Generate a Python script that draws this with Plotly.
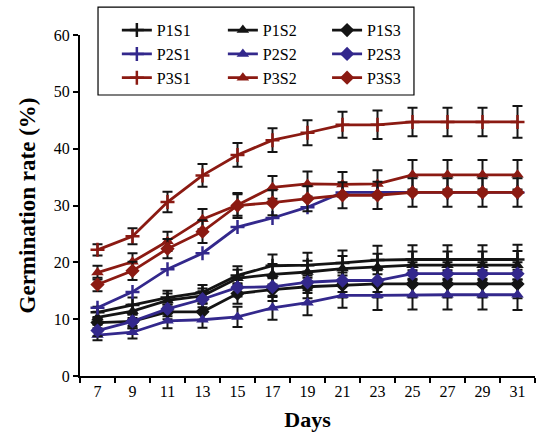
import plotly.graph_objects as go

days = ["7", "9", "11", "13", "15", "17", "19", "21", "23", "25", "27", "29", "31"]
y_ticks = [0, 10, 20, 30, 40, 50, 60]

P1S1 = [11.2, 12.5, 13.8, 14.7, 17.7, 19.4, 19.5, 19.9, 20.4, 20.5, 20.5, 20.5, 20.5]
P1S2 = [10.3, 11.4, 13.3, 14.1, 17.2, 17.9, 18.3, 18.9, 19.2, 19.5, 19.5, 19.5, 19.5]
P1S3 = [9.4, 9.6, 11.3, 11.3, 14.5, 15.2, 15.7, 16.0, 16.2, 16.2, 16.2, 16.2, 16.2]
P2S1 = [12.0, 14.8, 18.8, 21.6, 26.2, 27.8, 29.7, 32.3, 32.3, 32.3, 32.3, 32.3, 32.3]
P2S2 = [7.2, 7.7, 9.7, 9.9, 10.4, 12.0, 12.9, 14.2, 14.2, 14.3, 14.3, 14.3, 14.3]
P2S3 = [8.0, 9.6, 11.8, 13.5, 15.6, 15.7, 16.5, 16.8, 16.8, 18.0, 18.0, 18.0, 18.0]
P3S1 = [22.2, 24.6, 30.6, 35.3, 38.9, 41.5, 42.8, 44.2, 44.2, 44.7, 44.7, 44.7, 44.7]
P3S2 = [18.2, 20.1, 23.7, 27.6, 30.1, 33.2, 33.8, 33.7, 33.8, 35.4, 35.4, 35.4, 35.4]
P3S3 = [16.1, 18.5, 22.4, 25.4, 30.0, 30.5, 31.2, 31.8, 31.8, 32.3, 32.3, 32.3, 32.3]

P1S1_err = [1.0, 1.3, 1.2, 1.3, 1.6, 2.0, 2.2, 2.2, 2.5, 2.5, 2.5, 2.5, 2.6]
P1S2_err = [1.0, 1.2, 1.2, 1.3, 1.5, 1.8, 2.0, 2.2, 2.3, 2.4, 2.4, 2.4, 2.5]
P1S3_err = [1.0, 1.2, 1.3, 1.4, 1.8, 2.0, 2.0, 2.2, 2.4, 2.4, 2.4, 2.4, 2.5]
P2S2_err = [0.9, 1.1, 1.3, 1.4, 1.8, 2.1, 2.2, 2.2, 2.6, 2.6, 2.6, 2.6, 2.7]
P2S3_err = [1.0, 1.2, 1.3, 1.4, 1.6, 1.8, 1.9, 2.0, 2.0, 2.0, 2.0, 2.0, 2.0]
P3S1_err = [1.0, 1.4, 1.8, 2.0, 2.1, 2.1, 2.2, 2.3, 2.5, 2.5, 2.5, 2.5, 2.8]
P3S2_err = [1.2, 1.5, 1.7, 1.8, 1.9, 2.0, 2.2, 2.2, 2.4, 2.6, 2.6, 2.6, 2.6]
P3S3_err = [1.2, 1.6, 1.7, 2.0, 2.2, 2.2, 2.2, 2.3, 2.4, 2.5, 2.5, 2.5, 2.5]

BLACK = "#141414"
BLUE = "#33288C"
RED = "#8B1A12"
FONT = "Liberation Serif"

series = [
    ("P1S1", P1S1, P1S1_err, BLACK, "cross-thin", "legend"),
    ("P1S2", P1S2, P1S2_err, BLACK, "triangle-up", "legend2"),
    ("P1S3", P1S3, P1S3_err, BLACK, "diamond", "legend3"),
    ("P2S1", P2S1, None, BLUE, "cross-thin", "legend"),
    ("P2S2", P2S2, P2S2_err, BLUE, "triangle-up", "legend2"),
    ("P2S3", P2S3, P2S3_err, BLUE, "diamond", "legend3"),
    ("P3S1", P3S1, P3S1_err, RED, "cross-thin", "legend"),
    ("P3S2", P3S2, P3S2_err, RED, "triangle-up", "legend2"),
    ("P3S3", P3S3, P3S3_err, RED, "diamond", "legend3"),
]

fig = go.Figure()
for name, vals, err, color, sym, leg in series:
    if sym == "cross-thin":
        marker = dict(symbol=sym, size=10, color=color, line=dict(color=color, width=2.5))
    else:
        marker = dict(symbol=sym, size=11, color=color, line=dict(color=color, width=0))
    kw = {}
    if err is not None:
        kw["error_y"] = dict(type="data", array=err, visible=True, color=BLACK,
                             thickness=2, width=5)
    fig.add_trace(go.Scatter(
        x=days, y=vals, name=name, mode="lines+markers",
        line=dict(color=color, width=2.8), marker=marker, legend=leg, **kw))

leg_common = dict(font=dict(family=FONT, size=16, color="black"),
                  bgcolor="rgba(0,0,0,0)", borderwidth=0, orientation="v",
                  yanchor="top", xanchor="left", y=1.064, tracegroupgap=0,
                  itemclick=False)

fig.update_layout(
    width=540, height=442,
    margin=dict(l=80, r=5, t=35, b=66),
    paper_bgcolor="white", plot_bgcolor="white",
    font=dict(family=FONT, size=16, color="black"),
    legend=dict(x=0.081, **leg_common),
    legend2=dict(x=0.314, **leg_common),
    legend3=dict(x=0.543, **leg_common),
    shapes=[dict(type="rect", xref="paper", yref="paper",
                 x0=0.0396, x1=0.734, y0=0.824, y1=1.082,
                 line=dict(color="black", width=1.2), fillcolor="white", layer="below")],
    xaxis=dict(type="category", range=[-0.5, 12.5], tickson="boundaries",
               showline=True, linecolor="black", linewidth=2,
               ticks="outside", ticklen=5, tickwidth=1.5, tickcolor="black",
               showgrid=False, zeroline=False,
               tickfont=dict(family=FONT, size=16, color="black"),
               title=dict(text="<b>Days</b>", font=dict(family=FONT, size=22, color="black"),
                          standoff=12)),
    yaxis=dict(range=[0, 60], tickvals=y_ticks,
               showline=True, linecolor="black", linewidth=2,
               ticks="outside", ticklen=5, tickwidth=2, tickcolor="black",
               showgrid=False, zeroline=False,
               tickfont=dict(family=FONT, size=16, color="black"),
               title=dict(text="<b>Germination rate (%)</b>",
                          font=dict(family=FONT, size=23, color="black"), standoff=12)),
)

fig.write_html("out.html")
